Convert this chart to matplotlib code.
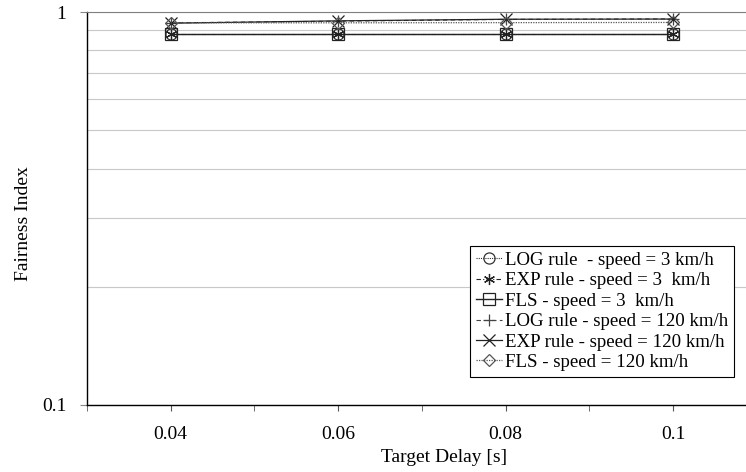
import matplotlib
matplotlib.use("Agg")
import matplotlib.pyplot as plt
from matplotlib.ticker import FixedLocator, NullFormatter, FixedFormatter

plt.rcParams["font.family"] = ["Liberation Serif", "DejaVu Serif"]

delays = [0.04, 0.06, 0.08, 0.1]
log_3 = [0.882, 0.882, 0.882, 0.882]
exp_3 = [0.880, 0.880, 0.880, 0.880]
fls_3 = [0.881, 0.881, 0.881, 0.881]
log_120 = [0.940, 0.949, 0.959, 0.962]
exp_120 = [0.938, 0.951, 0.960, 0.961]
fls_120 = [0.940, 0.940, 0.941, 0.942]

labels = [
    "LOG rule  - speed = 3 km/h",
    "EXP rule - speed = 3  km/h",
    "FLS - speed = 3  km/h",
    "LOG rule - speed = 120 km/h",
    "EXP rule - speed = 120 km/h",
    "FLS - speed = 120 km/h",
]

fig = plt.figure(figsize=(7.46, 4.72), dpi=100)
ax = fig.add_axes([0.1166, 0.142, 0.8834, 0.832])

styles = [
    (log_3, dict(color="#333333", ls=(0, (1, 1)), lw=0.8, marker="o", mfc="none")),
    (exp_3, dict(color="#222222", ls=(0, (4, 2, 1, 2)), lw=0.8, marker=(6, 2, 0), mfc="none")),
    (fls_3, dict(color="#222222", ls="-", lw=1.0, marker="s", mfc="none")),
    (log_120, dict(color="#444444", ls=(0, (4, 3)), lw=0.8, marker="+", mfc="none")),
    (exp_120, dict(color="#222222", ls="-", lw=0.9, marker="x", mfc="none")),
    (fls_120, dict(color="#555555", ls=(0, (1, 1)), lw=0.9, marker="D", mfc="none")),
]
for (vals, kw), lab in zip(styles, labels):
    ms = 6 if kw["marker"] == "D" else 8
    ax.plot(delays, vals, label=lab, markersize=ms, markeredgewidth=0.9, **kw)

ax.set_yscale("log")
ax.set_ylim(0.1, 1)
ax.set_xlim(0.03, 0.1087)

ax.yaxis.set_major_locator(FixedLocator([0.1, 1]))
ax.yaxis.set_major_formatter(FixedFormatter(["0.1", "1"]))
ax.yaxis.set_minor_locator(FixedLocator([0.2, 0.3, 0.4, 0.5, 0.6, 0.7, 0.8, 0.9]))
ax.yaxis.set_minor_formatter(NullFormatter())
ax.grid(True, axis="y", which="both", color="#c8c8c8", lw=0.8)
ax.tick_params(axis="y", which="minor", length=0)
ax.tick_params(axis="y", which="major", length=5, direction="out", labelsize=14,
               color="#888888", pad=10)

ax.xaxis.set_major_locator(FixedLocator(delays))
ax.xaxis.set_major_formatter(FixedFormatter(["0.04", "0.06", "0.08", "0.1"]))
ax.xaxis.set_minor_locator(FixedLocator([0.03, 0.05, 0.07, 0.09]))
ax.tick_params(axis="x", which="both", length=4, direction="out", labelsize=14,
               color="#555555", pad=11)

ax.spines["right"].set_visible(False)
ax.spines["top"].set_color("#808080")
ax.spines["left"].set_linewidth(1.0)
ax.spines["bottom"].set_linewidth(1.0)

ax.set_xlabel("Target Delay [s]", fontsize=14)
ax.set_ylabel("Fairness Index", fontsize=14)
ax.xaxis.set_label_coords(0.542, -0.112)
ax.yaxis.set_label_coords(-0.083, 0.463)

leg = ax.legend(loc="upper left", bbox_to_anchor=(0.581, 0.405), fontsize=13.6,
                frameon=True, fancybox=False, edgecolor="black", framealpha=1,
                handlelength=1.4, handletextpad=0.15, borderpad=0.3, labelspacing=0.17,
                borderaxespad=0)
leg.get_frame().set_linewidth(0.8)

fig.savefig("out.png", dpi=100)
